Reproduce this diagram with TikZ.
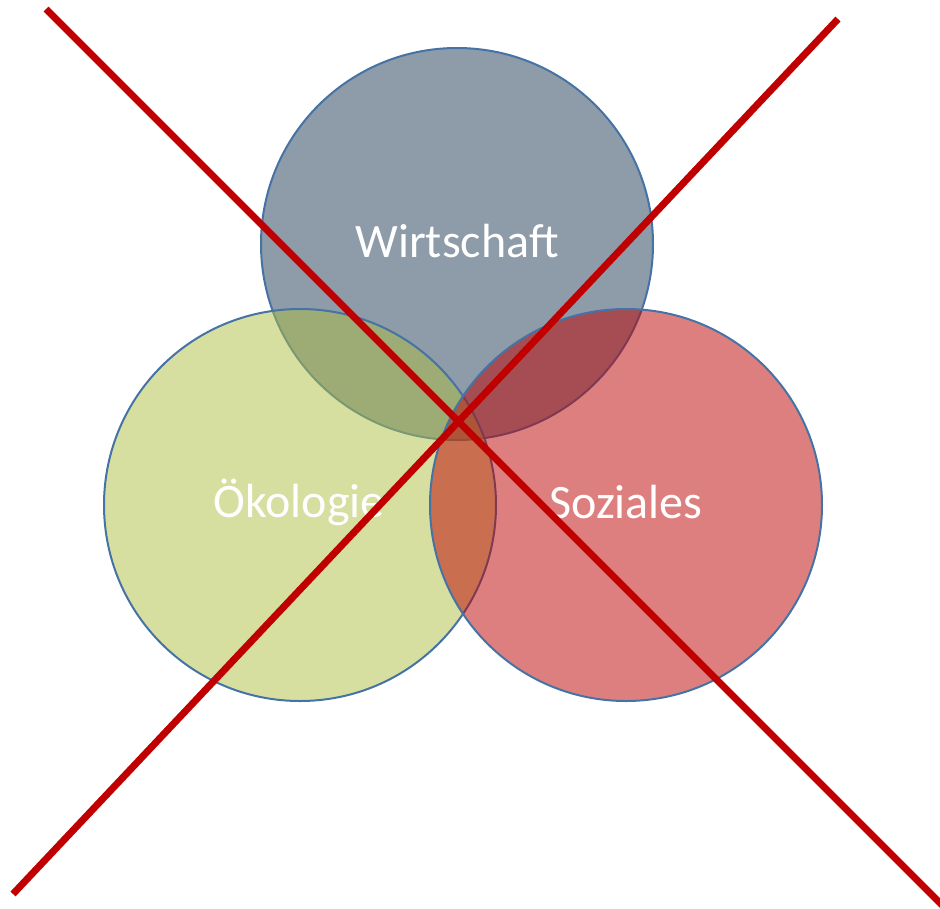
\documentclass[tikz,border=0pt]{standalone}
\usepackage{fontspec}
\setmainfont{Carlito}
\definecolor{ringblue}{RGB}{70,115,165}
\definecolor{wcol}{RGB}{29,55,81}
\definecolor{ocol}{RGB}{173,191,65}
\definecolor{scol}{RGB}{189,0,0}
\definecolor{crossred}{RGB}{192,0,0}
\begin{document}
\begin{tikzpicture}[x=1pt,y=-1pt]
\tikzset{
  ring/.style={circle, minimum size=392pt, inner sep=0pt, draw=ringblue,
    line width=2pt, fill opacity=0.5},
  caption/.style={text=white, font=\fontsize{48}{58}\selectfont,
    anchor=base, inner sep=0pt},
  cross/.style={draw=crossred, line width=7pt}
}
\useasboundingbox (0,0) rectangle (940,908);
% the three overlapping circles
\node[ring, fill=wcol] (wirt) at (457,244) {};
\node[ring, fill=ocol] (oeko) at (300,505) {};
\node[ring, fill=scol] (sozi) at (626,505) {};
% labels
\node[caption] (twirt) at (457,257) {Wirtschaft};
\node[caption] (toeko) at (299,517) {Ökologie};
\node[caption] (tsozi) at (626,518) {Soziales};
% crossing-out lines
\coordinate (a1) at (46,9);
\coordinate (a2) at (946,909);
\coordinate (b1) at (838,19);
\coordinate (b2) at (13,894);
\draw[cross] (a1) -- (a2);
\draw[cross] (b1) -- (b2);
\end{tikzpicture}
\end{document}
